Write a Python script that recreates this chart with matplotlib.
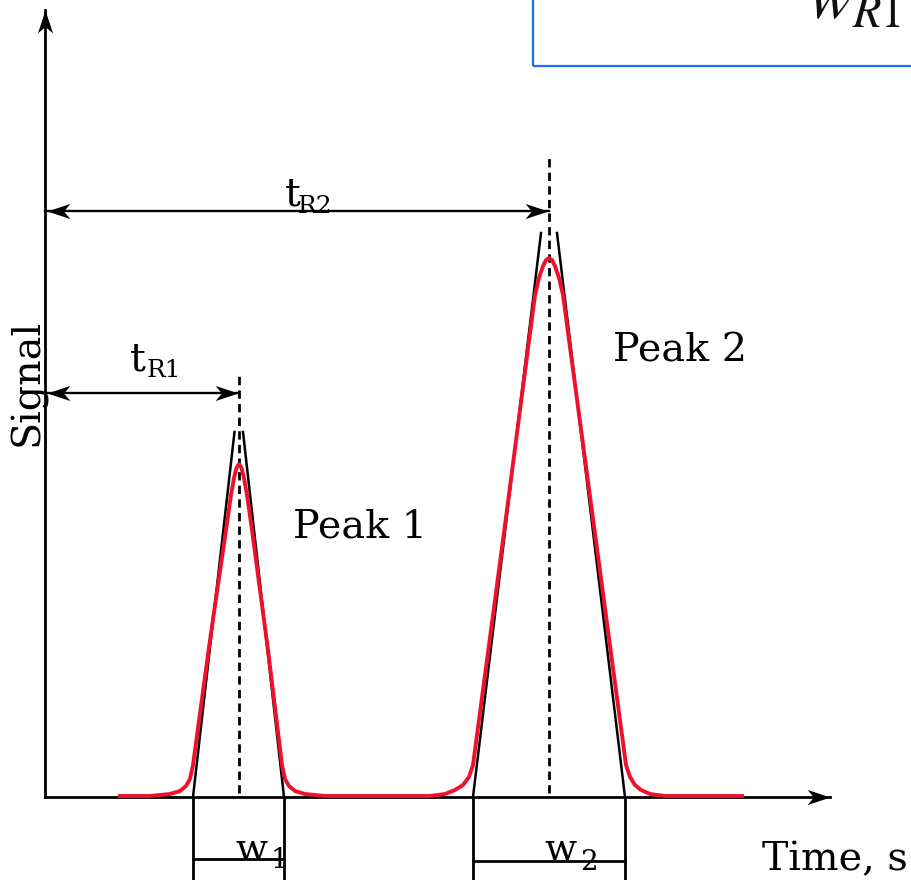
import matplotlib
matplotlib.use("Agg")
import matplotlib.pyplot as plt
from matplotlib.path import Path
from matplotlib.patches import Rectangle

plt.rcParams['font.family'] = ['DejaVu Serif']
plt.rcParams['mathtext.fontset'] = 'stix'
plt.rcParams['lines.scale_dashes'] = False

# traced chromatogram (time, signal)
signal_t = [1.50, 2.10, 2.50, 2.70, 2.82, 2.90, 2.96, 3.30, 3.62, 3.72, 3.78, 3.83, 3.88,
            3.93, 3.98, 4.04, 4.14, 4.46, 4.74, 4.80, 4.88, 5.00, 5.20, 5.60,
            7.10, 7.70, 8.00, 8.20, 8.36, 8.48, 8.56, 9.20, 9.80, 9.88, 9.96, 10.02, 10.08,
            10.14, 10.20, 10.28, 10.36, 10.99, 11.62, 11.70, 11.80, 11.92, 12.10, 12.40, 13.94]
signal_s = [0.01, 0.01, 0.03, 0.06, 0.11, 0.18, 0.32, 1.57, 2.67, 3.02, 3.19, 3.29, 3.33,
            3.29, 3.19, 3.02, 2.67, 1.47, 0.32, 0.18, 0.11, 0.06, 0.03, 0.01,
            0.01, 0.01, 0.03, 0.07, 0.12, 0.20, 0.32, 2.72, 5.02, 5.19, 5.31, 5.37, 5.39,
            5.37, 5.31, 5.19, 5.02, 2.67, 0.32, 0.20, 0.12, 0.07, 0.03, 0.01, 0.01]

retention = [3.88, 10.08]
base_left = [2.96, 8.56]
base_right = [4.78, 11.60]
top_left = [3.79, 9.92]
top_right = [3.96, 10.24]
top_s = [3.65, 5.64]
dash_top = [4.22, 6.42]
arrow_s = [4.04, 5.86]
bracket_s = [-0.62, -0.64]
peak_names = ['Peak 1', 'Peak 2']

fig = plt.figure(figsize=(9.11, 8.8), dpi=100)
ax = fig.add_axes([0, 0, 1, 1])
ax.set_xlim(-0.9, 17.32)
ax.set_ylim(-0.83, 7.97)
ax.axis('off')

# stealth arrow heads, tip at the marker centre
head = [(0, 0), (-1, 0.33), (-0.72, 0), (-1, -0.33), (0, 0)]
codes = [Path.MOVETO, Path.LINETO, Path.LINETO, Path.LINETO, Path.CLOSEPOLY]
right = Path(head, codes)
left = Path([(-x, y) for x, y in head], codes)
up = Path([(y, -x) for x, y in [(0, 0), (1, 0.33), (0.72, 0), (1, -0.33), (0, 0)]], codes)


def tip(x, y, mk):
    ax.plot([x], [y], marker=mk, ms=33, color='black', mew=0, ls='none', zorder=5)


# axes
ax.plot([0, 0], [0, 7.87], color='black', lw=2.0)
tip(0, 7.87, up)
ax.plot([0, 15.70], [0, 0], color='black', lw=2.0)
tip(15.70, 0, right)

for i in range(2):
    # tangents
    ax.plot([base_left[i], top_left[i]], [0, top_s[i]], color='black', lw=1.8, zorder=3)
    ax.plot([base_right[i], top_right[i]], [0, top_s[i]], color='black', lw=1.8, zorder=3)
    # retention line
    ax.plot([retention[i], retention[i]], [0.04, dash_top[i]], color='black', lw=2.0,
            dashes=(6, 3.8), zorder=3)
    # retention arrow
    ax.plot([0, retention[i]], [arrow_s[i], arrow_s[i]], color='black', lw=1.7)
    tip(0.04, arrow_s[i], left)
    tip(retention[i] - 0.02, arrow_s[i], right)
    # width bracket
    for b in (base_left[i], base_right[i]):
        ax.plot([b, b], [0, -0.9], color='black', lw=2.0)
    ax.plot([base_left[i], base_right[i]], [bracket_s[i]] * 2, color='black', lw=2.0)

ax.plot(signal_t, signal_s, color='#f0102c', lw=2.8, solid_joinstyle='round', zorder=4)

fs = 28.5
ax.text(4.96, 2.60, peak_names[0], fontsize=fs, va='baseline')
ax.text(11.36, 4.35, peak_names[1], fontsize=fs, va='baseline')
ax.text(-0.34, 4.15, 'Signal', fontsize=fs, rotation=90, ha='center', va='center')
ax.text(14.34, -0.73, 'Time, s', fontsize=fs, va='baseline')

ax.text(1.70, 4.27, 't', fontsize=fs, va='baseline')
ax.text(2.04, 4.20, 'R1', fontsize=18, va='baseline')
ax.text(4.80, 5.92, 't', fontsize=fs, va='baseline')
ax.text(5.06, 5.84, 'R2', fontsize=18, va='baseline')
ax.text(3.80, -0.63, 'w', fontsize=27, va='baseline')
ax.text(4.52, -0.71, '1', fontsize=20, va='baseline')
ax.text(9.98, -0.63, 'w', fontsize=27, va='baseline')
ax.text(10.70, -0.73, '2', fontsize=20, va='baseline')

# cropped formula box
ax.add_patch(Rectangle((9.76, 7.31), 9, 2, fill=False, ec='#1a6cff', lw=1.6))
ax.text(15.26, 7.79, r'$w_{R1}$', fontsize=48, va='baseline', color='#111111')

fig.savefig('out.png', dpi=100)
